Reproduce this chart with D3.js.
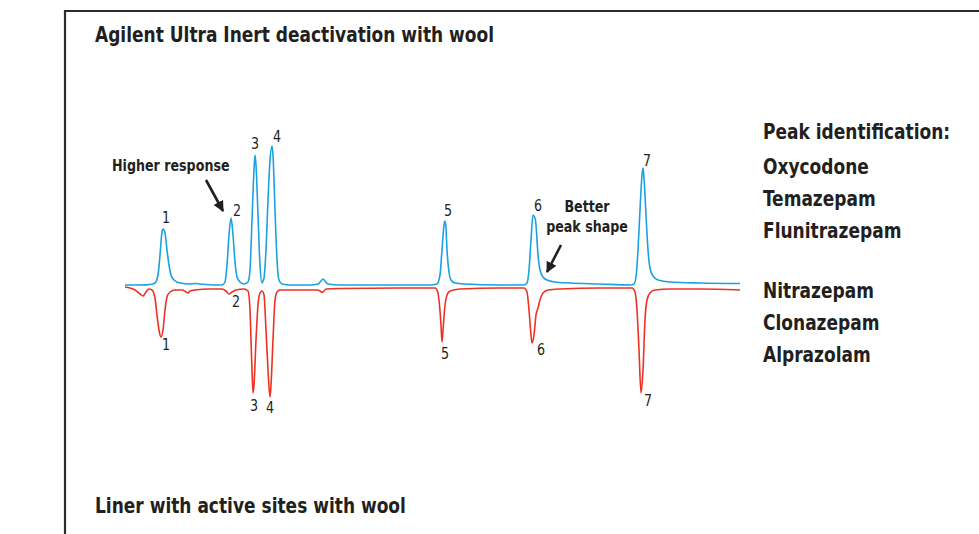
<!DOCTYPE html>
<html>
<head>
<meta charset="utf-8">
<script src="https://cdn.jsdelivr.net/npm/d3@7"></script>
<style>
  html, body { margin: 0; padding: 0; background: #fff; }
  svg { display: block; }
  .bold { font-family: "Liberation Sans Narrow", "DejaVu Sans Condensed", "Arial Narrow", sans-serif; font-weight: bold; fill: #231f20; }
  .num { font-family: "Liberation Sans Narrow", "DejaVu Sans Condensed", "Arial Narrow", sans-serif; font-weight: normal; fill: #231f20; }
</style>
</head>
<body>
<script>
// ---- data ----
// Upper trace (Agilent Ultra Inert deactivation with wool): [retention time (a.u.), response]
const inertTrace = [
  [0,0],[15,0],[25,0.5],[30,2],[33,10],[35,30],[37,53],[38,56],[40,52],[42,35],[44,20],[46,10],[49,5],[55,2],
  [65,1],[70,1.5],[75,1],[90,0],[97,0],[100,3],[102,20],[104,50],[106,67],[108,50],[110,23],[112,8],[115,3],
  [119,1],[123,3],[125,15],[127,65],[129,115],[130,130],[131,120],[133,70],[135,20],[137,2],[138,4],[139,7],
  [141,35],[143,85],[145,125],[147,139],[148,130],[150,75],[152,25],[154,5],[157,1],[165,0],[175,0],[185,0],
  [193,1],[196,4],[198,6],[200,4],[203,1],[215,0],[275,0],[305,0],[312,1],[315,10],[317,35],[319,60],[320,64],
  [321,57],[322,35],[324,13],[326,5],[330,2],[340,1],[375,0],[399,0],[402,2],[404,15],[406,45],[408,70],[410,67],
  [411,60],[413,30],[415,15],[418,8],[422,5],[430,3],[445,2],[475,1],[505,0],[509,1],[511,8],[513,35],[515,75],
  [517,110],[518,117],[519,107],[521,70],[523,35],[525,17],[528,9],[533,5],[545,3],[575,2],[615,1.5]
];
// Lower trace (liner with active sites with wool): [retention time (a.u.), response], drawn inverted
const activeTrace = [
  [0,-1],[5,0],[10,2],[15,6],[18,8],[21,4],[24,1],[27,2],[30,10],[32,27],[34,42],[36,49],[38,42],[40,22],[42,9],
  [45,4],[50,2],[57,2],[61,4],[63,5],[65,3],[70,2],[85,1],[97,1],[101,3],[104,6],[107,4],[111,2],[119,1],[123,3],
  [125,22],[126,52],[127,82],[128,105],[129,97],[131,52],[133,17],[135,5],[137,3],[139,7],[141,42],[143,82],
  [145,109],[146,97],[148,52],[150,12],[152,4],[155,2],[175,2],[193,2],[195,3],[197,4.5],[199,3],[201,1],[215,0.5],
  [275,0],[310,0],[312,2],[314,12],[316,37],[317,54],[318,42],[320,17],[322,7],[325,3],[335,1],[375,0],[399,0],
  [402,4],[404,22],[406,47],[407,55],[409,47],[411,27],[413,20],[415,12],[418,5],[423,2],[435,1],[475,0],[507,0],
  [510,4],[512,22],[514,62],[516,105],[518,82],[520,32],[522,12],[525,5],[530,2],[545,1],[575,1],[615,2]
];
// Peak numbers with their apex [time, response]
const peakIds = ["1","2","3","4","5","6","7"];
const inertApex = [[38,56],[106,67],[130,130],[147,139],[320,64],[408,70],[518,117]];
const activeApex = [[36,49],[104,6],[128,105],[145,109],[317,54],[407,55],[516,105]];
const compounds = ["Oxycodone","Temazepam","Flunitrazepam","Nitrazepam","Clonazepam","Alprazolam"];
const titleTop = "Agilent Ultra Inert deactivation with wool";
const titleBottom = "Liner with active sites with wool";
const legendTitle = "Peak identification:";
const noteHigher = "Higher response";
const noteBetter = ["Better", "peak shape"];

// ---- layout (positions / styles) ----
const W = 979, H = 534;
const SX = 0.88; // horizontal condensing of the bold text
const inertLabelOffset = [[3,-6],[6,-2],[0,-6],[5,-4],[3,-5],[5,-4],[4,-2]];
const activeLabelOffset = [[5,13],[7,13],[1,18],[0,16],[3,17],[9,12],[7,13]];

const svg = d3.select("body").append("svg").attr("width", W).attr("height", H);

function txt(parent, str, px, py, size, cls, sx, anchor) {
  return parent.append("text")
    .attr("class", cls)
    .attr("font-size", size)
    .attr("text-anchor", anchor || "start")
    .attr("transform", `translate(${px},${py}) scale(${sx},1)`)
    .text(str);
}

// frame
svg.append("path")
  .attr("d", `M${W+5},11 H65 V${H+5}`)
  .attr("fill", "none").attr("stroke", "#2b2b2b").attr("stroke-width", 2.2);

const x = d3.scaleLinear().domain([0, 615]).range([125, 740]);
const yInert = d3.scaleLinear().domain([0, 140]).range([285, 145]);
const yActive = d3.scaleLinear().domain([0, 110]).range([288, 398]);

const lineInert = d3.line().x(d => x(d[0])).y(d => yInert(d[1])).curve(d3.curveMonotoneX);
const lineActive = d3.line().x(d => x(d[0])).y(d => yActive(d[1])).curve(d3.curveMonotoneX);

svg.append("path").datum(activeTrace).attr("d", lineActive)
  .attr("fill", "none").attr("stroke", "#ee3124").attr("stroke-width", 1.6).attr("stroke-linejoin", "round");
svg.append("path").datum(inertTrace).attr("d", lineInert)
  .attr("fill", "none").attr("stroke", "#1ba0e0").attr("stroke-width", 1.6).attr("stroke-linejoin", "round");

// peak numbers
const gNum = svg.append("g");
peakIds.forEach((d, i) => {
  txt(gNum, d, x(inertApex[i][0]) + inertLabelOffset[i][0], yInert(inertApex[i][1]) + inertLabelOffset[i][1], 16, "num", 0.88, "middle");
  txt(gNum, d, x(activeApex[i][0]) + activeLabelOffset[i][0], yActive(activeApex[i][1]) + activeLabelOffset[i][1], 16, "num", 0.88, "middle");
});

// titles
txt(svg, titleTop, 95, 42, 21.5, "bold", SX);
txt(svg, titleBottom, 95, 513, 21.5, "bold", SX);

// legend
txt(svg, legendTitle, 763, 139, 21.5, "bold", SX);
const legendY = [174, 206, 238, 298, 330, 362];
compounds.forEach((d, i) => txt(svg, d, 763, legendY[i], 21.5, "bold", SX));

// annotations
txt(svg, noteHigher, 112, 171, 16, "bold", SX);
noteBetter.forEach((d, i) => txt(svg, d, 587, 212 + i * 20, 16, "bold", SX, "middle"));

const defs = svg.append("defs");
defs.append("marker").attr("id", "ah").attr("viewBox", "0 0 10 10")
  .attr("refX", 9).attr("refY", 5).attr("markerWidth", 4.2).attr("markerHeight", 4.2)
  .attr("orient", "auto").attr("markerUnits", "strokeWidth")
  .append("path").attr("d", "M0,0 L10,5 L0,10 Z").attr("fill", "#231f20");

const arrows = [[[206,180],[223,211]], [[561,245],[547,272]]];
svg.append("g").selectAll("line").data(arrows).join("line")
  .attr("x1", d => d[0][0]).attr("y1", d => d[0][1])
  .attr("x2", d => d[1][0]).attr("y2", d => d[1][1])
  .attr("stroke", "#231f20").attr("stroke-width", 2.6)
  .attr("marker-end", "url(#ah)");
</script>
</body>
</html>
